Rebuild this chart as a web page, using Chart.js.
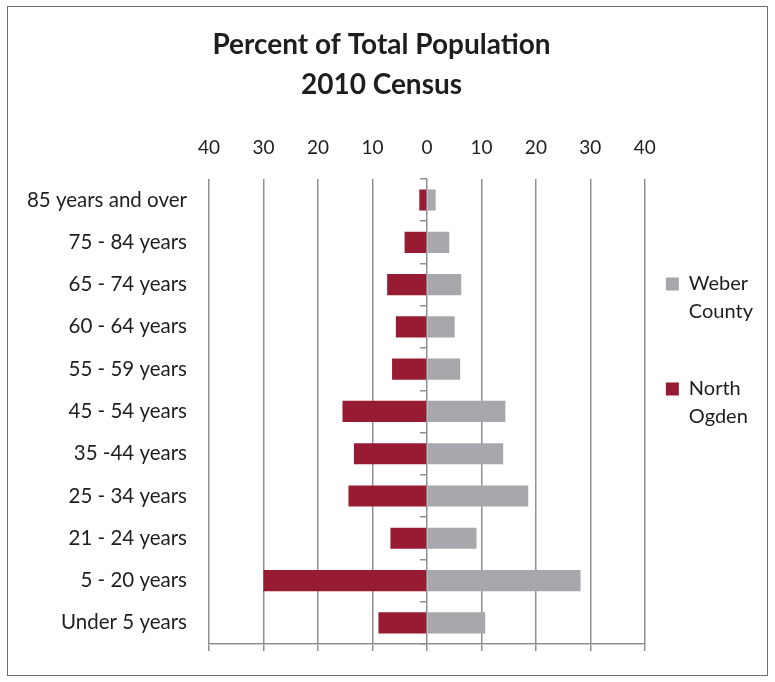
<!DOCTYPE html>
<html>
<head>
<meta charset="utf-8">
<script src="https://cdn.jsdelivr.net/npm/chart.js@4/dist/chart.umd.min.js"></script>
<style>
  html, body { margin: 0; padding: 0; background: #fff; }
  #wrap { position: relative; width: 775px; height: 682px; }
  #pyramid { display: block; }
  #frame { position: absolute; left: 7px; top: 6px; width: 761px; height: 670px;
           box-sizing: border-box; border: 1.5px solid #6e6e6e; pointer-events: none; }
</style>
</head>
<body>
<div id="wrap">
  <canvas id="pyramid" width="775" height="682"></canvas>
  <div id="frame"></div>
</div>
<script>
// age groups, top to bottom
var ageGroups = ['85 years and over', '75 - 84 years', '65 - 74 years', '60 - 64 years',
    '55 - 59 years', '45 - 54 years', '35 -44 years', '25 - 34 years',
    '21 - 24 years', '5 - 20 years', 'Under 5 years'];

// percent of total population
var weberCounty = [1.6, 4.1, 6.3, 5.1, 6.1, 14.4, 14.0, 18.6, 9.1, 28.2, 10.7];
var northOgden  = [1.4, 4.1, 7.3, 5.7, 6.4, 15.5, 13.4, 14.4, 6.7, 30.0, 8.9];

var titleLines = ['Percent of Total Population', '2010 Census'];

var gridGray = '#8f8f8f';
var textColor = '#1e1e1e';

var ctx = document.getElementById('pyramid').getContext('2d');

var myChart = new Chart(ctx, {
    type: 'bar',
    data: {
        labels: ageGroups,
        datasets: [{
            label: 'Weber County',
            data: weberCounty,
            backgroundColor: '#a7a8ab',
            borderWidth: 0,
            barPercentage: 0.5,
            categoryPercentage: 1,
            xAxisID: 'x',
            yAxisID: 'y'
        }, {
            label: 'North Ogden',
            data: northOgden.map(function (v) { return -v; }),
            backgroundColor: '#981b34',
            borderWidth: 0,
            barPercentage: 0.5,
            categoryPercentage: 1,
            xAxisID: 'x',
            yAxisID: 'y'
        }]
    },
    options: {
        responsive: false,
        animation: false,
        indexAxis: 'y',
        layout: { padding: { left: 0, right: 12, top: 0, bottom: 31 } },
        plugins: {
            tooltip: { enabled: false },
            title: {
                display: true,
                text: titleLines,
                color: textColor,
                font: { family: 'Lato', size: 28, weight: 'bold', lineHeight: 1.43 },
                padding: { top: 25, bottom: 11 }
            },
            legend: {
                position: 'right',
                align: 'start',
                title: { display: true, text: '', font: { size: 12, lineHeight: 1 }, padding: { top: 241, bottom: 0 } },
                labels: {
                    boxWidth: 13,
                    boxHeight: 13,
                    padding: 21,
                    color: textColor,
                    font: { family: 'Lato', size: 20, lineHeight: 1.4 },
                    generateLabels: function (chart) {
                        var items = Chart.defaults.plugins.legend.labels.generateLabels(chart);
                        items.forEach(function (it) {
                            it.text = it.text.split(' ').concat(['']);
                            it.lineWidth = 0;
                        });
                        return items;
                    }
                }
            }
        },
        scales: {
            x: {
                stacked: true,
                position: 'top',
                min: -40,
                max: 40,
                ticks: {
                    stepSize: 10,
                    padding: 20,
                    color: textColor,
                    font: { family: 'Lato', size: 19 },
                    callback: function (v) { return Math.abs(v); }
                },
                grid: { color: gridGray, lineWidth: 1.5, drawTicks: false },
                border: { display: false }
            },
            x2: {
                type: 'linear',
                position: 'bottom',
                min: -40,
                max: 40,
                ticks: { display: false, stepSize: 10 },
                grid: { drawOnChartArea: false, tickLength: 7, color: gridGray, lineWidth: 1.5 },
                border: { display: true, color: gridGray, width: 1.5 }
            },
            y: {
                stacked: true,
                grid: { display: false, drawTicks: false },
                border: { display: false },
                ticks: { padding: 22, color: textColor, font: { family: 'Lato', size: 20.5 } },
                afterFit: function (scale) { scale.width = 209; }
            },
            y2: {
                type: 'category',
                labels: ageGroups,
                position: { x: 0 },
                offset: true,
                ticks: { display: false },
                grid: { offset: true, drawOnChartArea: false, tickLength: 7, color: gridGray, lineWidth: 1.5 },
                border: { display: false }
            }
        }
    }
});
</script>
</body>
</html>
